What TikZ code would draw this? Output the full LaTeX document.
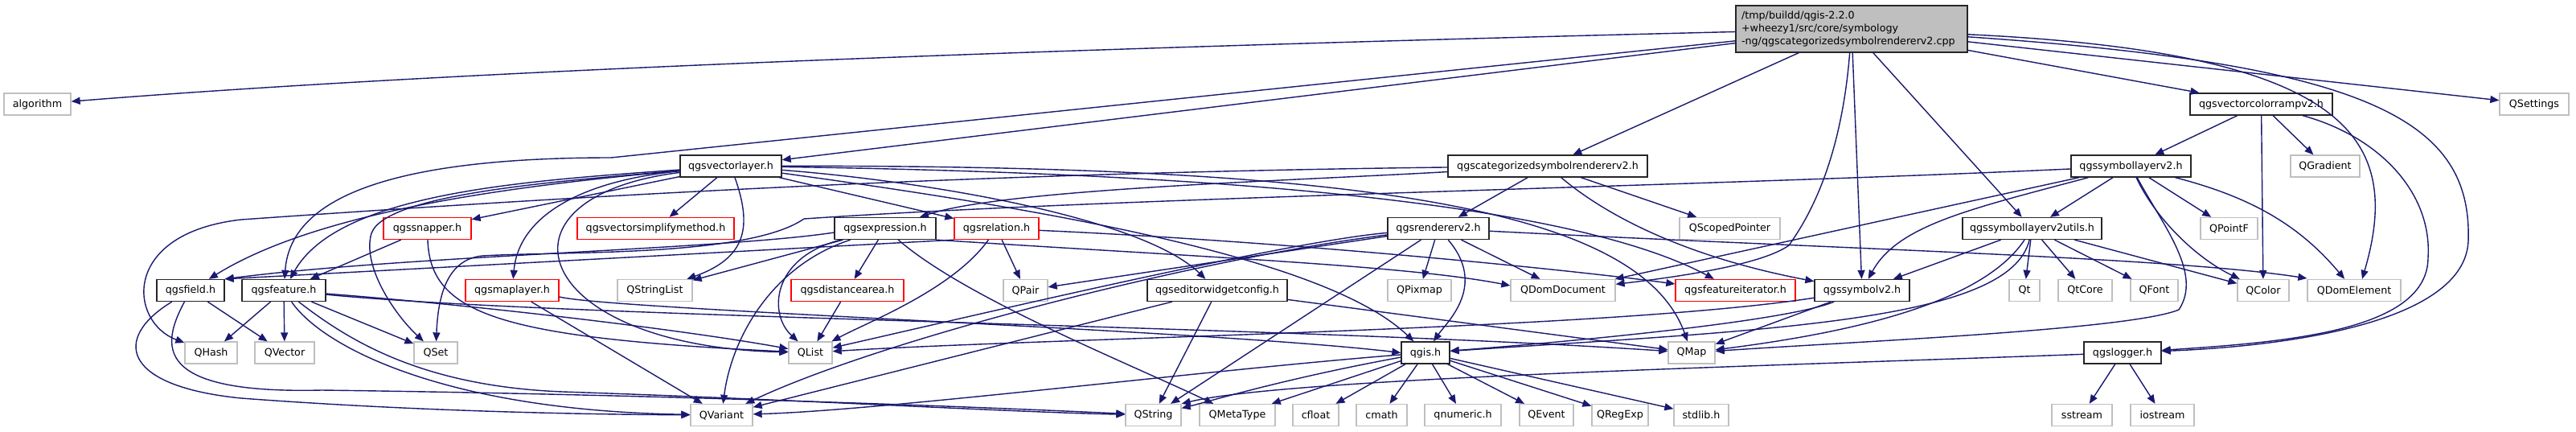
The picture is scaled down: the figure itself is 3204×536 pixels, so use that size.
\documentclass[tikz,border=0pt]{standalone}
\usepackage{fontspec}
\newfontfamily\dvfont{DejaVu Sans}
\usetikzlibrary{arrows.meta}
\definecolor{edgecol}{HTML}{191970}
\definecolor{greyb}{HTML}{BFBFBF}
\definecolor{redb}{HTML}{FF0000}
\definecolor{mainfill}{HTML}{BFBFBF}
\tikzset{
  nbase/.style={rectangle, inner sep=0pt, minimum height=27pt, fill=white, line width=1.3pt, font={\dvfont\fontsize{12.7pt}{16pt}\selectfont}},
  gbox/.style={nbase, draw=greyb},
  bbox/.style={nbase, draw=black!85},
  rbox/.style={nbase, draw=redb},
  edg/.style={draw=edgecol, line width=1.4pt, -{Triangle[length=11pt,width=9pt]}},
}
\newcommand{\nd}[6]{\node[#1, minimum width=#5pt] (#2) at (#3,-#4) {#6};}
\begin{document}
\begin{tikzpicture}[x=1pt,y=1pt]
\fill[white] (0,0) rectangle (3204,-536);
\useasboundingbox (0,0) rectangle (3204,-536);
% main
\node[bbox, fill=mainfill, minimum width=288pt, minimum height=58pt, text width=274pt, align=left, inner xsep=7pt] (main) at (2303,-36)
 {\mbox{/tmp/buildd/qgis-2.2.0}\\\mbox{+wheezy1/src/core/symbology}\\\mbox{-ng/qgscategorizedsymbolrendererv2.cpp}};
% row A
\nd{gbox}{algo}{46.5}{129.5}{83}{algorithm}
\nd{bbox}{vcr}{2812.5}{129.5}{177}{qgsvectorcolorrampv2.h}
\nd{gbox}{qsettings}{3152}{129.5}{86}{QSettings}
% row B
\nd{bbox}{vl}{909}{206.5}{126}{qgsvectorlayer.h}
\nd{bbox}{cat}{1925}{206.5}{248}{qgscategorizedsymbolrendererv2.h}
\nd{bbox}{sl}{2650.5}{206.5}{149}{qgssymbollayerv2.h}
\nd{gbox}{qgrad}{2892}{206.5}{86}{QGradient}
% row C
\nd{rbox}{snap}{531.5}{284}{109}{qgssnapper.h}
\nd{rbox}{vsm}{815.5}{284}{195}{qgsvectorsimplifymethod.h}
\nd{bbox}{expr}{1101}{284}{126}{qgsexpression.h}
\nd{rbox}{rel}{1239.5}{284}{105}{qgsrelation.h}
\nd{bbox}{rend}{1789}{284}{126}{qgsrendererv2.h}
\nd{gbox}{qsp}{2151.5}{284}{125}{QScopedPointer}
\nd{bbox}{slu}{2527.5}{284}{173}{qgssymbollayerv2utils.h}
\nd{gbox}{qptf}{2772.5}{284}{71}{QPointF}
% row D
\nd{bbox}{field}{237}{361}{84}{qgsfield.h}
\nd{bbox}{feat}{353}{361}{104}{qgsfeature.h}
\nd{rbox}{ml}{637}{361}{116}{qgsmaplayer.h}
\nd{gbox}{qsl}{814.5}{361}{93}{QStringList}
\nd{rbox}{da}{1054}{361}{140}{qgsdistancearea.h}
\nd{gbox}{qpair}{1275.5}{361}{55}{QPair}
\nd{bbox}{ewc}{1514}{361}{174}{qgseditorwidgetconfig.h}
\nd{gbox}{qpix}{1765.5}{361}{79}{QPixmap}
\nd{gbox}{qdd}{1944}{361}{130}{QDomDocument}
\nd{rbox}{fi}{2158.5}{361}{149}{qgsfeatureiterator.h}
\nd{bbox}{sv2}{2316}{361}{118}{qgssymbolv2.h}
\nd{gbox}{qt}{2518}{361}{38}{Qt}
\nd{gbox}{qtcore}{2593.5}{361}{67}{QtCore}
\nd{gbox}{qfont}{2679.5}{361}{59}{QFont}
\nd{gbox}{qcolor}{2815}{361}{64}{QColor}
\nd{gbox}{qde}{2928}{361}{116}{QDomElement}
% row E
\nd{gbox}{qhash}{262.5}{438.5}{65}{QHash}
\nd{gbox}{qvec}{354}{438.5}{74}{QVector}
\nd{gbox}{qset}{542}{438.5}{54}{QSet}
\nd{gbox}{qlist}{1008}{438.5}{54}{QList}
\nd{bbox}{qgis}{1773}{438.5}{60}{qgis.h}
\nd{gbox}{qmap}{2104}{438.5}{58}{QMap}
\nd{bbox}{logger}{2640}{438.5}{96}{qgslogger.h}
% row F
\nd{gbox}{qvar}{897.5}{516}{77}{QVariant}
\nd{gbox}{qstr}{1434.5}{516}{69}{QString}
\nd{gbox}{qmeta}{1539}{516}{94}{QMetaType}
\nd{gbox}{cfloat}{1636.5}{516}{57}{cfloat}
\nd{gbox}{cmath}{1718.5}{516}{63}{cmath}
\nd{gbox}{qnum}{1819.5}{516}{95}{qnumeric.h}
\nd{gbox}{qevent}{1923.5}{516}{67}{QEvent}
\nd{gbox}{qregexp}{2015}{516}{70}{QRegExp}
\nd{gbox}{stdlib}{2116}{516}{68}{stdlib.h}
\nd{gbox}{sstream}{2589.5}{516}{75}{sstream}
\nd{gbox}{iostream}{2689.5}{516}{79}{iostream}

% ---- edges: main
\draw[edg] (main) .. controls (1400,-58) and (600,-85) .. (algo);
\draw[edg] (main) -- (vl);
\draw[edg] (main) -- (760,-196) .. controls (450,-196) and (360,-260) .. (feat);
\draw[edg] (main) -- (cat);
\draw[edg] (main) .. controls (2290,-200) and (2250,-270) .. (2225,-305) .. controls (2190,-330) and (2080,-345) .. (qdd);
\draw[edg] (main) -- (sv2);
\draw[edg] (main) -- (slu);
\draw[edg] (main) -- (vcr);
\draw[edg] (main) -- (qsettings);
\draw[edg] (main) .. controls (2920,-65) and (2990,-170) .. ([xshift=10pt]qde.north);
\draw[edg] (main) .. controls (2950,-80) and (3075,-150) .. (3070,-300) .. controls (3065,-400) and (2850,-430) .. (logger);
% vcr
\draw[edg] (vcr) -- (sl);
\draw[edg] (vcr) -- (qcolor);
\draw[edg] (vcr) -- (qgrad);
\draw[edg] (vcr) .. controls (2960,-170) and (3025,-240) .. (3020,-320) .. controls (3020,-410) and (2850,-425) .. (logger);
% vl
\draw[edg] (vl) -- (vsm);
\draw[edg] (vl) .. controls (935,-280) and (930,-320) .. (qsl);
\draw[edg] (vl) -- (rel);
\draw[edg] (vl) .. controls (1150,-225) and (1420,-270) .. (ewc);
\draw[edg] (vl) .. controls (1500,-215) and (1950,-250) .. (fi);
\draw[edg] (vl) .. controls (1700,-205) and (2040,-260) .. (qmap);
\draw[edg] (vl) .. controls (1300,-260) and (1650,-320) .. (qgis);
\draw[edg] (vl) .. controls (600,-245) and (660,-430) .. (qlist);
\draw[edg] (vl) .. controls (700,-225) and (480,-240) .. (462,-290) .. controls (450,-330) and (490,-390) .. (qset);
\draw[edg] (vl) .. controls (720,-225) and (645,-270) .. (ml);
\draw[edg] (vl) -- (snap);
\draw[edg] (vl) .. controls (650,-230) and (400,-260) .. (field);
\draw[edg] (vl) .. controls (650,-225) and (420,-240) .. (feat);
% cat
\draw[edg] (cat) -- (rend);
\draw[edg] (cat) -- (qsp);
\draw[edg] (cat) .. controls (2000,-270) and (2100,-320) .. (sv2);
\draw[edg] (cat) .. controls (1600,-225) and (1250,-235) .. (expr);
\draw[edg] (cat) .. controls (1200,-215) and (700,-245) .. (300,-273) .. controls (150,-290) and (160,-400) .. (qhash);
% sl
\draw[edg] (sl) .. controls (2680,-270) and (2730,-320) .. (qcolor);
\draw[edg] (sl) .. controls (2690,-280) and (2740,-340) .. (2710,-385) .. controls (2650,-410) and (2300,-425) .. (qmap);
\draw[edg] (sl) -- (qptf);
\draw[edg] (sl) .. controls (2100,-232) and (1400,-245) .. (1000,-272) .. controls (930,-320) and (700,-312) .. (600,-318) .. controls (560,-322) and (545,-360) .. (qset);
\draw[edg] (sl) -- (qdd);
\draw[edg] (sl) .. controls (2450,-260) and (2360,-280) .. (sv2);
\draw[edg] (sl) -- (slu);
\draw[edg] (sl) .. controls (2800,-245) and (2860,-280) .. (qde);
% slu
\draw[edg] (slu) -- (qt);
\draw[edg] (slu) -- (qtcore);
\draw[edg] (slu) -- (qfont);
\draw[edg] (slu) -- (qcolor);
\draw[edg] (slu) -- (sv2);
\draw[edg] (slu) .. controls (2470,-370) and (2330,-410) .. (qmap);
\draw[edg] (slu) .. controls (2500,-400) and (2200,-410) .. (qgis);
% rend
\draw[edg] (rend) -- (qpix);
\draw[edg] (rend) -- (qdd);
\draw[edg] (rend) .. controls (1850,-355) and (1800,-400) .. (qgis);
\draw[edg] (rend) .. controls (2300,-310) and (2700,-320) .. ([yshift=15pt]qde.west);
\draw[edg] (rend) -- (qpair);
\draw[edg] (rend) .. controls (1600,-300) and (1200,-395) .. (qlist);
\draw[edg] (rend) .. controls (1500,-320) and (1100,-420) .. (qvar);
\draw[edg] (rend) -- (qstr);
% expr
\draw[edg] ([yshift=-5pt]expr.west) .. controls (900,-310) and (500,-318) .. (field.north east);
\draw[edg] (expr) -- (qsl);
\draw[edg] (expr) -- (da);
\draw[edg] (expr) .. controls (960,-320) and (955,-390) .. (qlist);
\draw[edg] (expr) .. controls (960,-330) and (910,-420) .. (qvar);
\draw[edg] (expr) .. controls (1200,-370) and (1400,-450) .. (qmeta);
\draw[edg] (expr.south east) .. controls (1500,-320) and (1750,-330) .. ([yshift=6pt]qdd.west);
% rel
\draw[edg] (rel.south west) -- (field.north east);
\draw[edg] (rel) .. controls (1185,-360) and (1080,-400) .. (qlist);
\draw[edg] (rel) -- (qpair);
\draw[edg] (rel) .. controls (1600,-300) and (1950,-335) .. ([yshift=8pt]fi.west);
% da
\draw[edg] (da) -- (qlist);
% ewc
\draw[edg] (ewc) -- (qstr);
\draw[edg] (ewc) -- (qvar);
\draw[edg] (ewc) -- (qmap);
% ml
\draw[edg] (ml) -- (qvar);
\draw[edg] ([yshift=-8pt]ml.east) .. controls (760,-385) and (1500,-410) .. (qgis.west);
% field
\draw[edg] (field) -- (qvec);
\draw[edg] (field) .. controls (140,-420) and (150,-480) .. (300,-495) .. controls (500,-510) and (700,-515) .. (qvar);
\draw[edg] (field) .. controls (200,-430) and (190,-490) .. (400,-485) .. controls (800,-490) and (1200,-505) .. (qstr);
% feat
\draw[edg] (feat) -- (qhash);
\draw[edg] (feat) -- (qvec);
\draw[edg] (feat) -- (qset);
\draw[edg] (feat) .. controls (400,-430) and (550,-510) .. (qvar);
\draw[edg] (feat) .. controls (430,-420) and (520,-480) .. (700,-487) .. controls (1000,-497) and (1250,-512) .. (qstr);
\draw[edg] (feat) .. controls (600,-380) and (850,-410) .. (qlist);
\draw[edg] (feat) .. controls (700,-395) and (1600,-405) .. (qmap);
% snap
\draw[edg] (snap) -- (feat);
\draw[edg] (snap) .. controls (535,-390) and (620,-420) .. (qlist);
% qgis
\draw[edg] (qgis) -- (cfloat);
\draw[edg] (qgis) -- (cmath);
\draw[edg] (qgis) -- (qnum);
\draw[edg] (qgis) -- (qevent);
\draw[edg] (qgis) -- (qregexp);
\draw[edg] (qgis) -- (stdlib);
\draw[edg] (qgis) .. controls (1600,-470) and (1500,-500) .. (qstr);
\draw[edg] (qgis) -- (qmeta);
\draw[edg] (qgis) .. controls (1500,-460) and (1100,-510) .. (qvar);
% logger
\draw[edg] (logger) -- (sstream);
\draw[edg] (logger) -- (iostream);
\draw[edg] (logger) .. controls (2200,-455) and (1600,-470) .. (qstr.north east);
% sv2
\draw[edg] (sv2) .. controls (2220,-400) and (1950,-425) .. (qgis);
\draw[edg] (sv2) .. controls (2000,-410) and (1300,-420) .. (qlist);
\draw[edg] (sv2) -- (qmap);
\end{tikzpicture}
\end{document}
